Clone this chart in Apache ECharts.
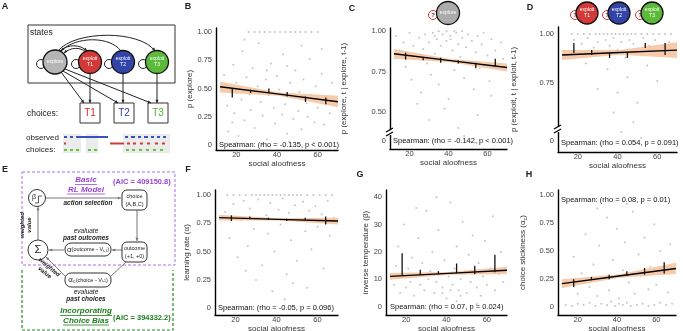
<!DOCTYPE html>
<html>
<head>
<meta charset="utf-8">
<script src="https://cdn.jsdelivr.net/npm/echarts@6/dist/echarts.min.js"></script>
<style>html,body{margin:0;padding:0;background:#fff}#main{width:683px;height:331px}</style>
</head>
<body>
<div id="main"></div>
<script>
var FONT = '"Liberation Sans", Arial, sans-serif';

// shared x positions: bins for the error bars, ends/middle of the fit
var binX = [18, 27, 36, 45, 54, 64];
var fitX = [12, 41, 70];
var xTicks = [20, 40, 60];

// B - p(explore)
var bPoints = [[14,0.62],[15.5,0.35],[16,0.12],[17,0.48],[18.5,0.71],[19,0.28],[20,0.55],[21,0.08],[22.5,0.40],[23,0.83],[24,0.22],[25,0.60],[26.5,0.45],[27,0.31],[28,0.68],[29,0.15],[30.5,0.52],[31,0.90],[32,0.38],[33,0.26],[34.5,0.58],[35,0.05],[36,0.44],[37,0.72],[38.5,0.33],[39,0.19],[40,0.61],[41,0.49],[42.5,0.27],[43,0.80],[44,0.36],[45,0.10],[46.5,0.55],[47,0.42],[48,0.23],[49,0.66],[50.5,0.30],[51,0.47],[52,0.14],[53,0.58],[54.5,0.37],[55,0.25],[56,0.76],[57,0.44],[58.5,0.20],[59,0.52],[60,0.33],[62,0.63],[63,0.18],[64,0.41],[66,0.28],[67,0.55],[26,1],[29,1],[31.5,1],[34,1],[36.5,1],[39,1],[41.5,1],[44,1],[46.5,1],[49,1],[51.5,1],[54,1],[57,1],[60,1],[20,0.02],[33,0.01],[46,0.03],[58,0.02],[24,0.93],[52,0.88],[62,0.85],[18,0.20],[35,0.66],[45,0.70]];
var bFit = [0.516, 0.45, 0.383];
var bBandLo = [0.465, 0.435, 0.335];
var bBandHi = [0.56, 0.465, 0.435];
var bBarLo = [0.42, 0.46, 0.46, 0.43, 0.38, 0.36];
var bBarHi = [0.50, 0.49, 0.50, 0.47, 0.43, 0.42];

// C - p(explore, t | explore, t-1)
var cPoints = [[13,0.97],[15,0.88],[17,0.93],[18,0.78],[20,0.99],[21,0.70],[22,0.91],[24,0.84],[25,0.96],[26,0.62],[27,0.89],[28,0.98],[29,0.80],[30,0.93],[31,0.73],[32,0.99],[33,0.86],[34,0.95],[35,0.67],[36,0.91],[37,0.98],[38,0.82],[39,0.94],[40,0.58],[41,0.97],[42,0.88],[43,0.76],[44,0.99],[45,0.92],[46,0.84],[47,0.96],[48,0.71],[49,0.90],[50,0.98],[51,0.81],[52,0.94],[53,0.64],[54,0.87],[55,0.97],[56,0.77],[57,0.92],[58,0.99],[60,0.85],[61,0.69],[62,0.95],[64,0.88],[65,0.79],[67,0.93],[68,0.83],[30,0.45],[45,0.40],[38,0.52],[55,0.48],[24,0.55],[62,0.60],[48,0.35],[35,1],[39,1],[43,1],[47,1],[33,0.97],[41,0.95]];
var cFit = [0.86, 0.818, 0.775];
var cBandLo = [0.83, 0.808, 0.75];
var cBandHi = [0.89, 0.828, 0.80];
var cBarLo = [0.824, 0.82, 0.805, 0.80, 0.77, 0.78];
var cBarHi = [0.867, 0.84, 0.835, 0.82, 0.805, 0.83];

// D - p(exploit, t | exploit, t-1)
var dPoints = [[17,1],[20,1],[23,1],[26,1],[29,1],[31,1],[33,1],[35,1],[37,1],[39,1],[41,1],[43,1],[45,1],[47,1],[49,1],[52,1],[55,1],[58,1],[61,1],[64,1],[67,1],[18,0.97],[22,0.95],[25,0.98],[28,0.93],[30,0.96],[32,0.90],[34,0.97],[36,0.94],[38,0.98],[40,0.92],[42,0.96],[44,0.88],[46,0.97],[48,0.95],[50,0.91],[53,0.98],[56,0.94],[59,0.97],[63,0.93],[66,0.96],[24,0.85],[35,0.82],[45,0.78],[55,0.84],[40,0.70],[50,0.65],[38,0.60],[48,0.55],[30,0.72],[60,0.76],[42,0.50],[52,0.47]];
var dFit = [0.893, 0.906, 0.918];
var dBandLo = [0.867, 0.894, 0.878];
var dBandHi = [0.918, 0.918, 0.958];
var dBarLo = [0.903, 0.893, 0.878, 0.878, 0.929, 0.893];
var dBarHi = [0.954, 0.918, 0.903, 0.908, 0.954, 0.954];

// F - learning rate
var fPoints = [[16,1],[19,1],[22,1],[25,1],[28,1],[30,1],[32,1],[34,1],[36,1],[38,1],[40,1],[42,1],[44,1],[46,1],[48,1],[50,1],[52,1],[55,1],[58,1],[61,1],[64,1],[67,1],[15,0.85],[17,0.62],[19,0.92],[21,0.45],[23,0.78],[24,0.95],[26,0.55],[27,0.88],[29,0.70],[31,0.96],[33,0.38],[35,0.82],[36,0.66],[37,0.93],[39,0.50],[41,0.87],[42,0.74],[43,0.97],[45,0.30],[46,0.84],[47,0.60],[49,0.91],[50,0.42],[51,0.79],[53,0.94],[54,0.68],[56,0.86],[57,0.52],[59,0.90],[60,0.72],[62,0.83],[63,0.35],[65,0.95],[66,0.64],[68,0.80],[38,0.15],[44,0.08],[48,0.22],[30,0.25],[55,0.18],[25,0.33]];
var fFit = [0.80, 0.785, 0.77];
var fBandLo = [0.775, 0.775, 0.74];
var fBandHi = [0.825, 0.795, 0.80];
var fBarLo = [0.77, 0.785, 0.78, 0.77, 0.78, 0.74];
var fBarHi = [0.82, 0.81, 0.80, 0.79, 0.80, 0.81];

// G - inverse temperature
var gPoints = [[14,8],[15,15],[16,22],[17,5],[18,11],[19,30],[20,7],[21,14],[22,9],[23,18],[24,4],[25,12],[26,25],[27,8],[28,16],[29,6],[30,35],[31,10],[32,13],[33,20],[34,5],[35,9],[36,28],[37,12],[38,7],[39,17],[40,3],[41,11],[42,38],[43,8],[44,14],[45,22],[46,6],[47,10],[48,31],[49,13],[50,5],[51,19],[52,9],[53,26],[54,12],[55,7],[56,16],[57,4],[58,11],[59,24],[60,8],[62,14],[63,33],[64,6],[66,12],[67,20],[68,9],[35,40],[25,36],[45,2],[55,1],[38,5],[42,6],[47,4]];
var gFit = [11.1, 12.2, 13.3];
var gBandLo = [9.9, 11.7, 12.0];
var gBandHi = [12.3, 12.7, 14.6];
var gBarLo = [11.5, 11.5, 11.8, 12.2, 12.0, 12.6];
var gBarHi = [19.5, 13.5, 13.0, 15.8, 15.0, 19.0];

// H - choice stickiness
var hPoints = [[14,0.02],[17,0.01],[20,0.03],[23,0.02],[26,0.04],[29,0.01],[32,0.03],[35,0.02],[37,0.05],[39,0.01],[41,0.03],[43,0.02],[45,0.04],[47,0.01],[50,0.02],[53,0.03],[56,0.01],[59,0.02],[62,0.04],[65,0.02],[68,0.03],[15,0.20],[18,0.45],[20,0.12],[22,0.30],[24,0.65],[26,0.18],[28,0.38],[30,0.10],[31,0.55],[33,0.25],[35,0.80],[36,0.15],[38,0.42],[40,0.70],[41,0.08],[43,0.33],[44,0.58],[46,0.22],[48,0.85],[49,0.12],[51,0.47],[52,0.28],[54,0.62],[56,0.16],[57,0.36],[59,0.74],[60,0.20],[62,0.50],[64,0.30],[66,0.13],[67,0.56],[45,0.92],[30,0.88]];
var hFit = [0.21, 0.278, 0.345];
var hBandLo = [0.17, 0.263, 0.295];
var hBandHi = [0.25, 0.293, 0.395];
var hBarLo = [0.18, 0.24, 0.25, 0.28, 0.29, 0.30];
var hBarHi = [0.25, 0.27, 0.29, 0.32, 0.35, 0.40];

var panels = [
  {grid: {left: 216, top: 28, width: 122, height: 122}, yMin: -0.044, yMax: 1.035,
   yTicks: [0, 0.25, 0.5, 0.75, 1], yLabels: ['0', '0.25', '0.50', '0.75', '1.00'],
   yName: 'p (explore)', nameGap: 19, points: bPoints, fit: bFit, lo: bBandLo, hi: bBandHi, barLo: bBarLo, barHi: bBarHi,
   stat: 'Spearman: (rho = -0.135, p < 0.001)', statPos: [219, 145]},
  {grid: {left: 390, top: 28, width: 117, height: 121}, yMin: 0.27, yMax: 1.02,
   yTicks: [0.32, 0.5, 0.75, 1], yLabels: ['0', '0.50', '0.75', '1.00'],
   yName: 'p (explore, t | explore, t-1)', nameGap: 42, points: cPoints, fit: cFit, lo: cBandLo, hi: cBandHi, barLo: cBarLo, barHi: cBarHi,
   stat: 'Spearman: (rho = -0.142, p < 0.001)', statPos: [393, 141]},
  {grid: {left: 558, top: 27, width: 119, height: 125}, yMin: 0.398, yMax: 1.036,
   yTicks: [0.454, 0.75, 1], yLabels: ['0', '0.75', '1.00'],
   yName: 'p (exploit, t | exploit, t-1)', nameGap: 40, points: dPoints, fit: dFit, lo: dBandLo, hi: dBandHi, barLo: dBarLo, barHi: dBarHi,
   stat: 'Spearman: (rho = 0.054, p = 0.091)', statPos: [561, 143]},
  {grid: {left: 215, top: 190, width: 123, height: 125}, yMin: -0.06, yMax: 1.044,
   yTicks: [0, 0.25, 0.5, 0.75, 1], yLabels: ['0', '0.25', '0.50', '0.75', '1.00'],
   yName: 'learning rate (α)', nameGap: 24, points: fPoints, fit: fFit, lo: fBandLo, hi: fBandHi, barLo: fBarLo, barHi: fBarHi,
   stat: 'Spearman: (rho = -0.05, p = 0.096)', statPos: [218, 308]},
  {grid: {left: 386, top: 190, width: 121, height: 125}, yMin: -3, yMax: 42.6,
   yTicks: [0, 10, 20, 30, 40], yLabels: ['0', '10', '20', '30', '40'],
   yName: 'inverse temperature (β)', nameGap: 14, points: gPoints, fit: gFit, lo: gBandLo, hi: gBandHi, barLo: gBarLo, barHi: gBarHi,
   stat: 'Spearman: (rho = 0.07, p = 0.024)', statPos: [390, 307]},
  {grid: {left: 558, top: 190, width: 118, height: 125}, yMin: -0.07, yMax: 1.045,
   yTicks: [0, 0.25, 0.5, 0.75, 1], yLabels: ['0', '0.25', '0.50', '0.75', '1.00'],
   yName: '{a|choice stickiness (α}{s|c}{a|)}', nameGap: 30, points: hPoints, fit: hFit, lo: hBandLo, hi: hBandHi, barLo: hBarLo, barHi: hBarHi,
   stat: 'Spearman: (rho = 0.08, p = 0.01)', statPos: [561, 200]}
];

var grids = [], xAxes = [], yAxes = [], series = [];

panels.forEach(function (p, i) {
  var g = p.grid;
  g.outerBoundsMode = 'none';
  grids.push(g);
  xAxes.push({
    gridIndex: i, type: 'value', min: 10, max: 70,
    axisLine: {show: true, onZero: false, lineStyle: {color: '#000', width: 1.4}},
    axisTick: {show: false}, splitLine: {show: false},
    axisLabel: {customValues: xTicks, fontSize: 7.5, color: '#444', margin: 1, fontFamily: FONT},
    name: 'social aloofness', nameLocation: 'middle', nameGap: 10,
    nameTextStyle: {fontSize: 8, color: '#333', fontFamily: FONT}
  });
  yAxes.push({
    gridIndex: i, type: 'value', min: p.yMin, max: p.yMax,
    axisLine: {show: true, onZero: false, lineStyle: {color: '#000', width: 1.4}},
    axisTick: {show: false}, splitLine: {show: false},
    axisLabel: {
      customValues: p.yTicks, fontSize: 7.5, color: '#444', margin: 4, fontFamily: FONT,
      formatter: function (v) {
        for (var k = 0; k < p.yTicks.length; k++) {
          if (Math.abs(p.yTicks[k] - v) < 1e-6) return p.yLabels[k];
        }
        return '';
      }
    },
    name: p.yName, nameLocation: 'middle', nameGap: p.nameGap,
    nameTextStyle: {fontSize: 8, color: '#333', fontFamily: FONT,
      rich: {a: {fontSize: 8, color: '#333', fontFamily: FONT}, s: {fontSize: 5.5, color: '#333', fontFamily: FONT, padding: [5, 0, 0, 0]}}}
  });
  series.push({
    type: 'scatter', xAxisIndex: i, yAxisIndex: i, data: p.points, symbolSize: 2, z: 2,
    itemStyle: {color: '#8c8c8c', opacity: 0.5}, silent: true
  });
  series.push({
    type: 'custom', xAxisIndex: i, yAxisIndex: i, z: 3, silent: true,
    data: [[fitX[1], p.fit[1]]],
    renderItem: function (params, api) {
      var pts = [];
      for (var k = 0; k < fitX.length; k++) pts.push(api.coord([fitX[k], p.hi[k]]));
      for (var m = fitX.length - 1; m >= 0; m--) pts.push(api.coord([fitX[m], p.lo[m]]));
      return {type: 'polygon', shape: {points: pts}, style: {fill: '#f6c4a0', opacity: 0.9}};
    }
  });
  series.push({
    type: 'line', xAxisIndex: i, yAxisIndex: i, z: 5, symbol: 'none', silent: true,
    data: fitX.map(function (x, k) { return [x, p.fit[k]]; }),
    lineStyle: {color: '#000', width: 1.4}
  });
  series.push({
    type: 'custom', xAxisIndex: i, yAxisIndex: i, z: 6, silent: true,
    data: binX.map(function (x, k) { return [x, p.barLo[k], p.barHi[k]]; }),
    encode: {x: 0, y: [1, 2]},
    renderItem: function (params, api) {
      var a = api.coord([api.value(0), api.value(1)]);
      var b = api.coord([api.value(0), api.value(2)]);
      return {type: 'line', shape: {x1: a[0], y1: a[1], x2: b[0], y2: b[1]}, style: {stroke: '#111', lineWidth: 1.3}};
    }
  });
});

// ---------- graphic helpers ----------
var G = [];
function add() {
  for (var i = 0; i < arguments.length; i++) {
    var a = arguments[i];
    if (Array.isArray(a)) G.push.apply(G, a); else G.push(a);
  }
}
function T(x, y, s, size, o) {
  var st = {text: s, fontSize: size, fontFamily: FONT, fill: '#222', align: 'center', verticalAlign: 'middle',
    textAlign: 'center', textVerticalAlign: 'middle', lineHeight: size + 1};
  for (var k in (o || {})) st[k] = o[k];
  return {type: 'text', x: x, y: y, style: st, z: 20};
}
function L() { return {align: 'left', textAlign: 'left'}; }
function head(x, y, ang, color) {
  var s = 3.5;
  return {type: 'polygon', z: 12, shape: {points: [[x, y],
    [x - s * Math.cos(ang - 0.45), y - s * Math.sin(ang - 0.45)],
    [x - s * Math.cos(ang + 0.45), y - s * Math.sin(ang + 0.45)]]}, style: {fill: color}};
}
function arrow(x1, y1, x2, y2, color, w) {
  var a = Math.atan2(y2 - y1, x2 - x1);
  return [{type: 'line', z: 11, shape: {x1: x1, y1: y1, x2: x2, y2: y2}, style: {stroke: color, lineWidth: w || 1}}, head(x2, y2, a, color)];
}
function line(x1, y1, x2, y2, color, w) {
  return {type: 'line', z: 11, shape: {x1: x1, y1: y1, x2: x2, y2: y2}, style: {stroke: color, lineWidth: w || 1}};
}
function curve(x1, y1, c1x, c1y, c2x, c2y, x2, y2) {
  return [{type: 'bezierCurve', z: 11, shape: {x1: x1, y1: y1, cpx1: c1x, cpy1: c1y, cpx2: c2x, cpy2: c2y, x2: x2, y2: y2},
    style: {stroke: '#222', lineWidth: 1, fill: 'none'}}, head(x2, y2, Math.atan2(y2 - c2y, x2 - c2x), '#222')];
}
function node(cx, cy, r, fill, label, fs) {
  return [{type: 'circle', z: 13, shape: {cx: cx, cy: cy, r: r}, style: {fill: fill, stroke: '#111', lineWidth: 1.3}},
    T(cx, cy, label, fs || 5, {fill: '#fff'})];
}
function loop(cx, cy, color) {
  return {type: 'circle', z: 12, shape: {cx: cx, cy: cy, r: 4.5}, style: {fill: 'none', stroke: color, lineWidth: 1}};
}
function qloop(cx, cy) {
  return [loop(cx, cy, '#e0302a'), T(cx, cy, '?', 6, {fill: '#333', fontWeight: 'bold'})];
}

// panel letters
add(T(5, 7, 'A', 9, {fontWeight: 'bold'}), T(188, 7, 'B', 9, {fontWeight: 'bold'}), T(352, 9, 'C', 9, {fontWeight: 'bold'}),
  T(530, 8, 'D', 9, {fontWeight: 'bold'}), T(5, 170, 'E', 9, {fontWeight: 'bold'}), T(188, 170, 'F', 9, {fontWeight: 'bold'}),
  T(360, 175, 'G', 9, {fontWeight: 'bold'}), T(529, 175, 'H', 9, {fontWeight: 'bold'}));

// ---------- panel A ----------
var stateX = [55, 90, 123, 157];
add({type: 'rect', z: 10, shape: {x: 28, y: 25, width: 147, height: 58}, style: {fill: 'none', stroke: '#333', lineWidth: 1}});
add(T(30, 33, 'states', 8.5, L()));
add(loop(stateX[0] - 14, 64, '#222'), loop(stateX[1] - 14, 64, '#222'), loop(stateX[2] - 14, 64, '#222'), loop(stateX[3] - 14, 64, '#222'));
add(curve(58, 51, 75, 30, 140, 30, 155, 51));
add(curve(121, 51, 110, 36, 76, 36, 61, 51));
add(curve(60, 51, 68, 44, 80, 44, 87, 51));
add(curve(86, 52, 80, 47, 71, 47, 64, 53));
add(node(stateX[0], 62, 12, '#b5b5b5', 'explore'), node(stateX[1], 62, 11.5, '#d23a3a', 'exploit\nT1'),
  node(stateX[2], 62, 11.5, '#3344a8', 'exploit\nT2'), node(stateX[3], 62, 11.5, '#5cba3a', 'exploit\nT3'));
add(arrow(61, 72, 84, 103, '#222'), arrow(63, 71, 118, 103, '#222'), arrow(65, 69, 151, 103, '#222'));
add(arrow(90, 74, 90, 103, '#222'), arrow(123, 74, 123, 103, '#222'), arrow(157, 74, 157, 103, '#222'));
[[80, 'T1', '#d02a2a'], [114, 'T2', '#2c3ea6'], [148, 'T3', '#55b02e']].forEach(function (b) {
  add({type: 'rect', z: 10, shape: {x: b[0], y: 103, width: 20, height: 20}, style: {fill: '#fff', stroke: '#333', lineWidth: 1}});
  add(T(b[0] + 10, 113.5, b[1], 10, {fill: b[2]}));
});
add(T(27, 114, 'choices:', 8.5, L()));
add(T(26, 138, 'observed', 8, L()), T(26, 150, 'choices:', 8, L()));
[[63, 81], [86, 98], [123, 170]].forEach(function (r) {
  add({type: 'rect', z: 9, shape: {x: r[0], y: 134, width: r[1] - r[0], height: 19}, style: {fill: '#ebebeb'}});
});
var obsRows = [
  [137, '#3b4fc4', [[64, 67], [70, 73], [76, 108], [125, 128], [131, 135], [138, 141], [144, 148], [151, 154], [157, 160], [163, 166]]],
  [143.5, '#d23a3a', [[64, 66], [110, 124], [127, 130], [133, 136], [140, 143], [147, 150], [155, 158], [162, 165]]],
  [150, '#66c23c', [[64, 67], [70, 73], [76, 79], [88, 91], [94, 97], [126, 129], [132, 135], [139, 142], [146, 149], [153, 156], [160, 163]]]
];
obsRows.forEach(function (row) {
  row[2].forEach(function (s) { add(line(s[0], row[0], s[1], row[0], row[1], 2)); });
});

// ---------- state icons above C and D ----------
add(qloop(433, 15), node(448, 13, 11.5, '#ababab', 'explore'));
add(qloop(575, 15), node(587, 13, 11, '#d23a3a', 'exploit\nT1'));
add(qloop(607, 15), node(619, 13, 11, '#3344a8', 'exploit\nT2'));
add(qloop(640, 15), node(652, 13, 11, '#5cba3a', 'exploit\nT3'));

// axis break marks on C and D
[[390, 133], [558, 130]].forEach(function (b) {
  add({type: 'rect', z: 30, shape: {x: b[0] - 4, y: b[1] - 3, width: 8, height: 5}, style: {fill: '#fff'}});
  add(Object.assign(line(b[0] - 4, b[1] - 1, b[0] + 3, b[1] - 5, '#000', 1.2), {z: 31}),
    Object.assign(line(b[0] - 4, b[1] + 3, b[0] + 3, b[1] - 1, '#000', 1.2), {z: 31}));
});

// Spearman annotations
panels.forEach(function (p) { add(T(p.statPos[0], p.statPos[1], p.stat, 7.5, {align: 'left', textAlign: 'left', fill: '#111'})); });

// ---------- panel E ----------
var PURPLE = '#9a45d6', GREEN = '#1f7d1f', GREY = '#777';
add({type: 'rect', z: 9, shape: {x: 22, y: 172, width: 153, height: 93}, style: {fill: 'none', stroke: '#b06ae8', lineWidth: 1, lineDash: [3, 2]}});
add({type: 'polyline', z: 9, shape: {points: [[22, 270], [22, 330], [173, 330], [173, 270]]}, style: {fill: 'none', stroke: '#2a8a2a', lineWidth: 1.2, lineDash: [3, 2]}});
add(T(86, 180, 'Basic', 8, {fill: PURPLE, fontWeight: 'bold', fontStyle: 'italic'}), line(75, 184.5, 97, 184.5, PURPLE, 0.8));
add(T(86, 189.5, 'RL Model', 8, {fill: PURPLE, fontWeight: 'bold', fontStyle: 'italic'}), line(67, 194, 105, 194, PURPLE, 0.8));
add(T(113, 182, '(AIC = 409150.8)', 7.5, {align: 'left', textAlign: 'left', fill: PURPLE, fontWeight: 'bold'}));
add({type: 'circle', z: 13, shape: {cx: 37, cy: 198, r: 8.5}, style: {fill: '#fff', stroke: '#333', lineWidth: 1}});
add(T(34, 197, 'β', 7), {type: 'polyline', z: 14, shape: {points: [[35, 203], [38.5, 203], [38.5, 196], [42, 196]]}, style: {stroke: '#333', lineWidth: 0.8, fill: 'none'}});
add(arrow(46, 198, 121, 198, GREY));
add(T(88, 203.5, 'action selection', 6.5, {fontWeight: 'bold', fontStyle: 'italic'}));
add({type: 'rect', z: 13, shape: {x: 122, y: 190, width: 25, height: 20, r: 5}, style: {fill: '#fff', stroke: '#333', lineWidth: 1}});
add(T(134.5, 196, 'choice', 5.5), T(134.5, 204, '(A,B,C)', 5.5));
add(arrow(137, 210, 137, 241, GREY));
add({type: 'rect', z: 13, shape: {x: 122, y: 242, width: 25, height: 20, r: 5}, style: {fill: '#fff', stroke: '#333', lineWidth: 1}});
add(T(134.5, 248, 'outcome', 5.5), T(134.5, 256, '(+1, +0)', 5.5));
add(T(86, 231, 'evaluate', 6.5, {fontStyle: 'italic'}), T(86, 238, 'past outcomes', 6.5, {fontWeight: 'bold', fontStyle: 'italic'}));
add({type: 'rect', z: 13, shape: {x: 65, y: 243, width: 46, height: 13, r: 6}, style: {fill: '#fff', stroke: '#333', lineWidth: 1}});
add(T(88, 249.5, '{g|α}{t|(outcome - V}{s|t-1}{t|)}', 5.5,
  {rich: {g: {fontSize: 8, fontFamily: FONT}, t: {fontSize: 5.5, fontFamily: FONT}, s: {fontSize: 3.5, fontFamily: FONT, padding: [3, 0, 0, 0]}}}));
add(arrow(122, 250, 112, 250, GREY), arrow(64, 250, 49, 250, GREY));
add({type: 'circle', z: 13, shape: {cx: 38, cy: 250, r: 10}, style: {fill: '#fff', stroke: '#333', lineWidth: 1}});
add(T(38, 250, 'Σ', 11));
add(arrow(38, 240, 38, 207, GREY));
add({type: 'text', x: 26, y: 225, rotation: Math.PI / 2, z: 20,
  style: {text: 'weighted\nvalue', fontSize: 6, fontFamily: FONT, fill: '#222', fontWeight: 'bold', fontStyle: 'italic',
    align: 'center', verticalAlign: 'middle', textAlign: 'center', textVerticalAlign: 'middle', lineHeight: 7}});
add({type: 'rect', z: 13, shape: {x: 65, y: 273, width: 46, height: 14, r: 6}, style: {fill: '#fff', stroke: '#333', lineWidth: 1}});
add(T(88, 280, '{g|α}{c|C}{t|(choice - V}{s|t-1}{t|)}', 5.5,
  {rich: {g: {fontSize: 8, fontFamily: FONT}, c: {fontSize: 4, fontFamily: FONT, padding: [3, 0, 0, 0]}, t: {fontSize: 5.5, fontFamily: FONT}, s: {fontSize: 3.5, fontFamily: FONT, padding: [3, 0, 0, 0]}}}));
add(line(126, 262, 111, 276, GREY));
add(arrow(66, 277, 46, 257, GREY));
add({type: 'text', x: 47, y: 270, rotation: -0.7, z: 20,
  style: {text: 'weighted\nvalue', fontSize: 6, fontFamily: FONT, fill: '#222', fontWeight: 'bold', fontStyle: 'italic',
    align: 'center', verticalAlign: 'middle', textAlign: 'center', textVerticalAlign: 'middle', lineHeight: 7}});
add(T(86, 292, 'evaluate', 6.5, {fontStyle: 'italic'}), T(86, 299.5, 'past choices', 6.5, {fontWeight: 'bold', fontStyle: 'italic'}));
add(T(86, 311, 'Incorporating', 8, {fill: GREEN, fontWeight: 'bold', fontStyle: 'italic'}), line(60, 315.5, 112, 315.5, GREEN, 0.8));
add(T(86, 320.5, 'Choice Bias', 8, {fill: GREEN, fontWeight: 'bold', fontStyle: 'italic'}), line(63, 325, 109, 325, GREEN, 0.8));
add(T(113, 318, '(AIC = 394332.2)', 7.5, {align: 'left', textAlign: 'left', fill: GREEN, fontWeight: 'bold'}));

var myChart = echarts.init(document.getElementById('main'));
myChart.setOption({
  animation: false,
  textStyle: {fontFamily: FONT},
  grid: grids,
  xAxis: xAxes,
  yAxis: yAxes,
  series: series,
  graphic: {elements: G}
});
</script>
</body>
</html>
